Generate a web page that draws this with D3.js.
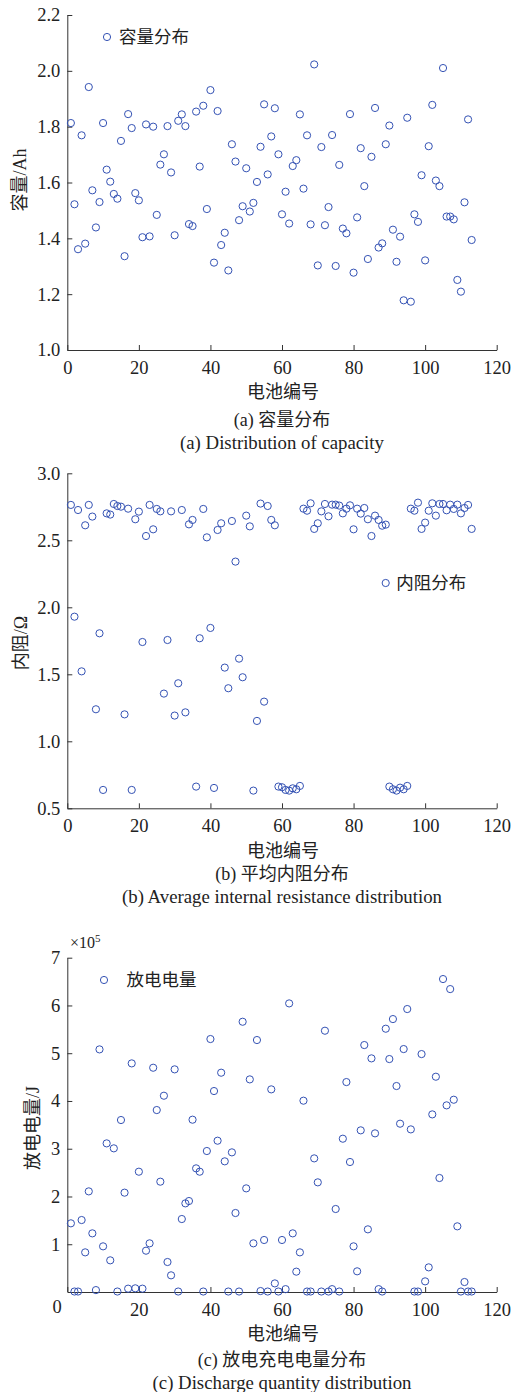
<!DOCTYPE html>
<html>
<head>
<meta charset="utf-8">
<script src="https://cdn.jsdelivr.net/npm/d3@7"></script>
<style>
  html, body { margin: 0; padding: 0; background: #fff; }
  svg { display: block; }
  .tick text { font-family: "Liberation Serif", "Times New Roman", serif; font-size: 18.5px; fill: #222; }
  .domain, .tick line { stroke: #333; stroke-width: 1; }
</style>
</head>
<body>
<svg id="chart" width="523" height="1392"></svg>
<script>
// ---------- data ----------
const batteryIds = d3.range(1, 114); // 电池编号 1..113

const capacity = [
  1.813,1.522,1.361,1.769,1.381,1.942,1.572,1.439,1.530,1.813,
  1.646,1.603,1.559,1.542,1.749,1.336,1.845,1.795,1.562,1.536,
  1.404,1.808,1.407,1.800,1.484,1.664,1.701,1.802,1.636,1.411,
  1.821,1.844,1.802,1.451,1.444,1.854,1.657,1.875,1.505,1.931,
  1.313,1.856,1.376,1.420,1.285,1.737,1.675,1.465,1.515,1.651,
  1.496,1.527,1.602,1.728,1.880,1.629,1.765,1.866,1.701,1.486,
  1.567,1.453,1.659,1.680,1.844,1.578,1.769,1.450,2.023,1.303,
  1.727,1.447,1.512,1.770,1.301,1.663,1.435,1.418,1.845,1.277,
  1.475,1.723,1.587,1.326,1.692,1.867,1.367,1.382,1.737,1.804,
  1.431,1.316,1.406,1.178,1.832,1.173,1.486,1.459,1.626,1.321,
  1.730,1.878,1.607,1.587,2.010,1.478,1.478,1.468,1.251,1.209,
  1.529,1.826,1.394
];

const resistance = [
  2.764,1.930,2.726,1.522,2.612,2.764,2.677,1.239,1.806,0.637,
  2.701,2.692,2.771,2.756,2.751,1.201,2.736,0.637,2.657,2.714,
  1.741,2.532,2.764,2.582,2.734,2.716,1.356,1.756,2.716,1.192,
  1.433,2.726,1.216,2.619,2.652,0.662,1.769,2.734,2.522,1.846,
  0.652,2.577,2.627,1.550,1.396,2.644,2.341,1.617,1.478,2.684,
  2.604,0.632,1.152,2.774,1.296,2.756,2.652,2.612,0.662,0.657,
  0.637,0.632,0.649,0.642,0.667,2.736,2.721,2.776,2.585,2.627,
  2.716,2.771,2.679,2.766,2.766,2.759,2.701,2.736,2.761,2.582,
  2.736,2.699,2.741,2.657,2.532,2.684,2.652,2.609,2.617,0.662,
  0.642,0.632,0.654,0.642,0.667,2.736,2.721,2.781,2.585,2.632,
  2.721,2.776,2.684,2.771,2.771,2.724,2.766,2.734,2.766,2.701,
  2.741,2.764,2.585
];

// discharge quantity, units of 1e5 J
const discharge = [
  1.438,0.010,0.010,1.507,0.830,2.107,1.228,0.040,5.080,0.956,
  3.112,0.663,3.008,0.010,3.601,2.080,0.070,4.787,0.077,2.519,
  0.070,0.865,1.019,4.696,3.810,2.310,4.110,0.628,0.349,4.662,
  0.010,1.528,1.856,1.905,3.608,2.589,2.519,0.010,2.952,5.297,
  4.208,3.168,4.592,2.736,0.010,2.924,1.654,0.010,5.659,2.170,
  4.452,1.019,5.276,0.020,1.089,0.010,4.243,0.180,0.010,1.089,
  0.060,6.043,1.228,0.426,0.830,4.006,0.010,0.010,2.798,2.296,
  0.010,5.471,0.010,0.060,1.738,0.010,3.210,4.396,2.722,0.956,
  0.433,3.385,5.171,1.312,4.892,3.322,0.060,0.010,5.513,4.878,
  5.715,4.313,3.524,5.087,5.925,3.405,0.010,0.010,4.982,0.223,
  0.516,3.719,4.508,2.387,6.553,3.908,6.343,4.026,1.375,0.010,
  0.209,0.010,0.010
];

const xTicks = [0, 20, 40, 60, 80, 100, 120];
const capTicks = [1.0, 1.2, 1.4, 1.6, 1.8, 2.0, 2.2];
const resTicks = [0.5, 1.0, 1.5, 2.0, 2.5, 3.0];
const disTicks = [1, 2, 3, 4, 5, 6, 7];

const xTitle = "电池编号";
const panels = [
  { values: capacity, domain: [1.0, 2.2], ticks: capTicks, fmt: d3.format(".1f"),
    top: 15, bottom: 350, yTitleCN: "容量", yTitleEN: "/Ah", yTitleX: 20, yTitleY: 180,
    legend: "容量分布", legX: 107, legY: 37, legGap: 12,
    capCN: "(a) 容量分布", capEN: "(a) Distribution of capacity", capY: 420 },
  { values: resistance, domain: [0.5, 3.0], ticks: resTicks, fmt: d3.format(".1f"),
    top: 473.3, bottom: 808.3, yTitleCN: "内阻", yTitleEN: "/Ω", yTitleX: 21, yTitleY: 643,
    legend: "内阻分布", legX: 385.7, legY: 583, legGap: 10.5,
    capCN: "(b) 平均内阻分布", capEN: "(b) Average internal resistance distribution", capY: 874 },
  { values: discharge, domain: [0, 7], ticks: disTicks, fmt: d3.format("d"),
    top: 957.7, bottom: 1292, yTitleCN: "放电电量", yTitleEN: "/J", yTitleX: 33, yTitleY: 1128,
    legend: "放电电量", legX: 104, legY: 980, legGap: 22.5,
    capCN: "(c) 放电充电电量分布", capEN: "(c) Discharge quantity distribution", capY: 1360,
    hideZero: true, exponent: true }
];

// ---------- drawing ----------
const svg = d3.select("#chart");
svg.append("rect").attr("width", 523).attr("height", 1392).attr("fill", "#fff");

const markerColor = "#3452b4";
const serif = "'Liberation Serif', 'Times New Roman', serif";
const cjkSans = "'Noto Sans CJK SC', sans-serif";

const x = d3.scaleLinear().domain([0, 120]).range([67.3, 496.7]);

function mixedText(sel, parts) {
  // parts: [{text, cjk:boolean}]
  parts.forEach(pt => {
    sel.append("tspan").attr("font-family", pt.cjk ? cjkSans : serif).text(pt.text);
  });
}

panels.forEach(p => {
  const g = svg.append("g");
  const y = d3.scaleLinear().domain(p.domain).range([p.bottom, p.top]);

  const xAxis = d3.axisBottom(x).tickValues(xTicks).tickSize(-5).tickSizeOuter(0).tickPadding(11)
    .tickFormat(d => (p.hideZero && d === 0) ? "" : d3.format("d")(d));
  g.append("g").attr("transform", `translate(0,${p.bottom})`).call(xAxis);

  const yAxis = d3.axisLeft(y).tickValues(p.ticks).tickSize(-5).tickSizeOuter(0).tickPadding(7)
    .tickFormat(p.fmt);
  g.append("g").attr("transform", `translate(${x(0)},0)`).call(yAxis);

  if (p.hideZero) {
    g.append("text").attr("x", 57).attr("y", p.bottom + 21)
      .attr("text-anchor", "middle").attr("font-family", serif).attr("font-size", 18.5)
      .attr("fill", "#222").text("0");
  }
  if (p.exponent) {
    const t = g.append("text").attr("x", 70).attr("y", p.top - 10)
      .attr("font-family", serif).attr("font-size", 16).attr("fill", "#222");
    t.append("tspan").text("×10");
    t.append("tspan").attr("font-size", 11).attr("dy", -6).text("5");
  }

  // points
  g.append("g").selectAll("circle").data(p.values).join("circle")
    .attr("cx", (d, i) => x(batteryIds[i]))
    .attr("cy", d => y(d))
    .attr("r", 3.6)
    .attr("fill", "none")
    .attr("stroke", markerColor)
    .attr("stroke-width", 1);

  // legend
  g.append("circle").attr("cx", p.legX).attr("cy", p.legY).attr("r", 3.6)
    .attr("fill", "none").attr("stroke", markerColor).attr("stroke-width", 1);
  g.append("text").attr("x", p.legX + p.legGap).attr("y", p.legY).attr("dy", "0.36em")
    .attr("font-family", cjkSans).attr("font-size", 17.5).attr("fill", "#222").text(p.legend);

  // axis titles
  g.append("text").attr("x", 283).attr("y", p.bottom + 42).attr("dy", "0.36em")
    .attr("text-anchor", "middle").attr("font-family", cjkSans).attr("font-size", 18)
    .attr("fill", "#222").text(xTitle);
  const yt = g.append("text")
    .attr("transform", `translate(${p.yTitleX},${p.yTitleY}) rotate(-90)`)
    .attr("dy", "0.36em").attr("text-anchor", "middle")
    .attr("font-size", 18).attr("fill", "#222");
  mixedText(yt, [{ text: p.yTitleCN, cjk: true }, { text: p.yTitleEN, cjk: false }]);

  // captions
  const cc = g.append("text").attr("x", 282).attr("y", p.capY).attr("dy", "0.36em")
    .attr("text-anchor", "middle").attr("font-size", 18).attr("fill", "#222");
  mixedText(cc, [{ text: p.capCN.slice(0, 4), cjk: false }, { text: p.capCN.slice(4), cjk: true }]);
  g.append("text").attr("x", 282).attr("y", p.capY + 23).attr("dy", "0.34em")
    .attr("text-anchor", "middle").attr("font-family", serif).attr("font-size", 18.8)
    .attr("fill", "#222").text(p.capEN);
});
</script>
</body>
</html>
